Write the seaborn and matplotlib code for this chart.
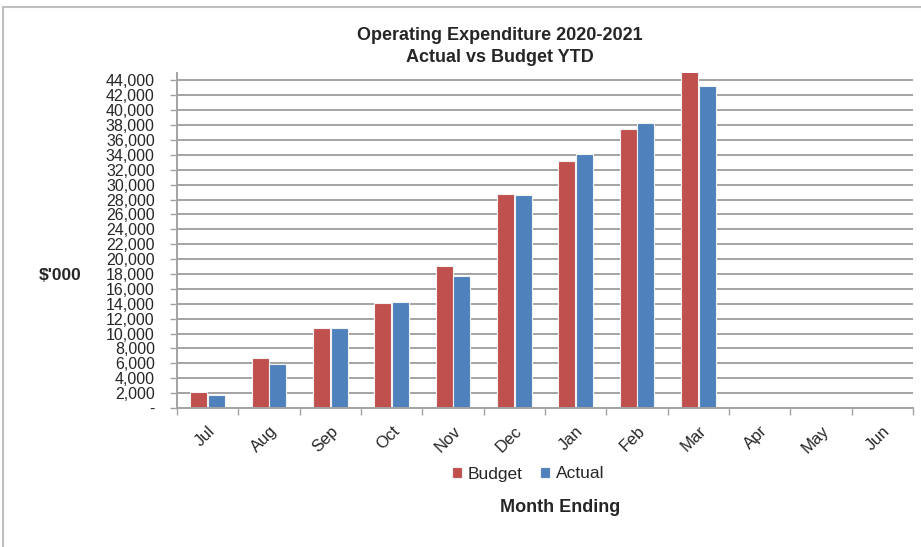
import matplotlib
matplotlib.use("Agg")
import matplotlib.pyplot as plt
import matplotlib.ticker as mticker
from matplotlib.patches import Rectangle
import numpy as np
import pandas as pd
import seaborn as sns

months = ["Jul", "Aug", "Sep", "Oct", "Nov", "Dec", "Jan", "Feb", "Mar", "Apr", "May", "Jun"]
budget = [2100, 6700, 10800, 14100, 19100, 28700, 33200, 37500, 45300, np.nan, np.nan, np.nan]
actual = [1750, 5900, 10800, 14200, 17700, 28600, 34100, 38300, 43300, np.nan, np.nan, np.nan]
series_names = ["Budget", "Actual"]
colors = ["#C0504D", "#4F81BD"]

df = pd.DataFrame({
    "Month": months * 2,
    "Series": [series_names[0]] * len(months) + [series_names[1]] * len(months),
    "Value": budget + actual,
})

sns.set_theme(style="white")
plt.rcParams["font.family"] = ["Liberation Sans", "DejaVu Sans"]

fig = plt.figure(figsize=(9.21, 5.47), dpi=100)
ax = fig.add_axes([177 / 921, 1 - 408 / 547, (913 - 177) / 921, (408 - 73) / 547])

sns.barplot(data=df, x="Month", y="Value", hue="Series", order=months,
            hue_order=series_names, palette=colors, width=0.58, gap=0.05,
            edgecolor="#f2f2f2", linewidth=0.8, ax=ax, legend=True, saturation=1)

ax.set_xlim(-0.5, len(months) - 0.5)
ax.set_ylim(0, 45000)
ax.set_yticks(np.arange(0, 44001, 2000))
ax.yaxis.set_major_formatter(mticker.FuncFormatter(lambda v, p: "-" if v == 0 else f"{int(v):,}"))
ax.yaxis.grid(True, color="#a3a3a3", linewidth=1.4)
ax.set_axisbelow(True)

for s in ["top", "right"]:
    ax.spines[s].set_visible(False)
for s in ["left", "bottom"]:
    ax.spines[s].set_color("#a3a3a3")
    ax.spines[s].set_linewidth(1.4)

ax.tick_params(axis="y", which="major", length=5, width=1, color="#a3a3a3", pad=11,
               labelsize=11.5, left=True)
ax.set_xticks(np.arange(-0.5, len(months), 1.0), minor=True)
ax.tick_params(axis="x", which="minor", length=5, width=1, color="#a3a3a3", bottom=True)
ax.tick_params(axis="x", which="major", length=0, pad=11, labelsize=12)
for lab in ax.get_xticklabels():
    lab.set_rotation(45)
    lab.set_ha("right")
    lab.set_va("top")
    lab.set_rotation_mode("anchor")

ax.set_xlabel("")
ax.set_ylabel("")

leg = ax.legend(loc="center", bbox_to_anchor=(528 / 921, 1 - 474 / 547), bbox_transform=fig.transFigure,
                ncol=2, frameon=False, fontsize=12.5, handlelength=0.6, handleheight=0.6,
                handletextpad=0.3, columnspacing=1.0)

fig.text(500 / 921, 1 - 35 / 547, "Operating Expenditure 2020-2021", ha="center", va="center",
         fontsize=13, fontweight="bold")
fig.text(500 / 921, 1 - 57 / 547, "Actual vs Budget YTD", ha="center", va="center",
         fontsize=13, fontweight="bold")
fig.text(560 / 921, 1 - 508 / 547, "Month Ending", ha="center", va="center",
         fontsize=13, fontweight="bold")
fig.text(60 / 921, 1 - 276 / 547, "$'000", ha="center", va="center",
         fontsize=12.5, fontweight="bold")

fig.patches.append(Rectangle((3 / 921, -0.1), 1.2, 1.1 - 7 / 547, transform=fig.transFigure,
                             fill=False, edgecolor="#bfbfbf", linewidth=1.5))

fig.savefig("out.png", dpi=100, facecolor="white")
